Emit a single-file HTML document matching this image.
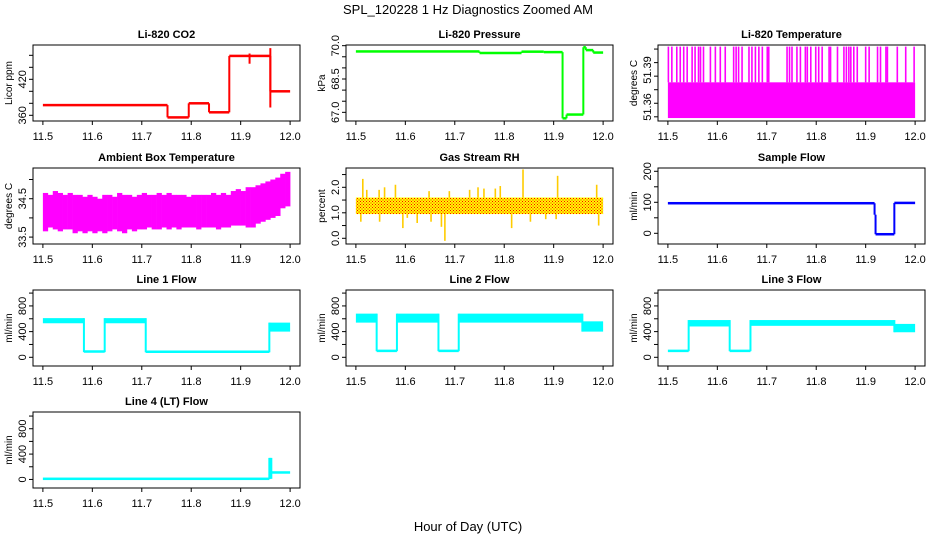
<!DOCTYPE html>
<html><head><meta charset="utf-8"><title>SPL_120228 1 Hz Diagnostics Zoomed AM</title>
<style>
html,body{margin:0;padding:0;background:#fff;}
svg{display:block;font-family:"Liberation Sans",Arial,sans-serif;}
</style></head>
<body>
<svg id="chart" width="936" height="540" viewBox="0 0 936 540" xmlns="http://www.w3.org/2000/svg">
<defs>
<pattern id="rhpat" width="3" height="3" patternUnits="userSpaceOnUse">
<rect width="3" height="3" fill="#ffff00"/>
<rect x="0" y="0" width="1" height="1" fill="#ff0000"/>
<rect x="1.5" y="1.5" width="1" height="1" fill="#ff0000"/>
</pattern>
</defs>
<text x="468" y="14" font-size="13" text-anchor="middle">SPL_120228 1 Hz Diagnostics Zoomed AM</text>
<text x="468" y="531" font-size="13" text-anchor="middle">Hour of Day (UTC)</text>
</svg>
<script>
// ---- data ----
const xTicks = [11.5, 11.6, 11.7, 11.8, 11.9, 12.0];
const xTickLabels = ["11.5", "11.6", "11.7", "11.8", "11.9", "12.0"];

const co2Start = [11.5, 11.752, 11.795, 11.836, 11.877, 11.96];
const co2Value = [377, 356.5, 380, 365, 459, 400];
const co2SpikeX = [11.918, 11.96];
const co2SpikeLow = [446, 373];
const co2SpikeHigh = [463, 472];

const presStart = [11.5, 11.75, 11.835, 11.88, 11.918, 11.926, 11.96, 11.965, 11.98];
const presValue = [69.74, 69.67, 69.73, 69.71, 66.73, 66.9, 69.93, 69.8, 69.69];

const tempLevels = [51.351, 51.380, 51.409];
const tempSpikeX = [11.501,11.508,11.518,11.525,11.532,11.539,11.549,11.555,11.562,11.566,11.572,11.586,11.596,11.606,11.616,11.633,11.638,11.643,11.650,11.664,11.670,11.677,11.684,11.691,11.701,11.704,11.741,11.746,11.751,11.761,11.768,11.778,11.782,11.789,11.799,11.805,11.812,11.826,11.829,11.843,11.856,11.861,11.866,11.870,11.876,11.883,11.900,11.907,11.924,11.930,11.941,11.944,11.964,11.981,11.998];

const ambBinStart = 11.5;
const ambLow = [33.65,33.75,33.7,33.65,33.7,33.7,33.6,33.65,33.6,33.65,33.6,33.65,33.6,33.65,33.7,33.65,33.6,33.7,33.65,33.7,33.7,33.75,33.7,33.7,33.75,33.7,33.75,33.7,33.75,33.75,33.75,33.7,33.75,33.75,33.75,33.7,33.75,33.75,33.8,33.8,33.8,33.75,33.75,33.85,33.9,33.95,34.0,34.05,34.25,34.3];
const ambHigh = [34.65,34.6,34.7,34.65,34.6,34.65,34.6,34.6,34.55,34.6,34.55,34.5,34.6,34.6,34.55,34.65,34.6,34.6,34.55,34.6,34.65,34.6,34.6,34.65,34.6,34.65,34.6,34.6,34.6,34.55,34.6,34.6,34.6,34.6,34.65,34.6,34.65,34.6,34.7,34.75,34.7,34.8,34.8,34.85,34.9,34.95,35.0,35.05,35.15,35.2];

const rhBand = [0.95, 1.6];
const rhSpikeX = [11.514,11.522,11.547,11.558,11.580,11.648,11.689,11.730,11.747,11.759,11.782,11.792,11.838,11.908,11.987,11.510,11.548,11.595,11.604,11.624,11.652,11.673,11.680,11.815,11.853,11.884,11.905,11.991];
const rhSpikeValue = [2.33,1.9,1.9,2.0,2.1,1.85,1.85,1.9,2.0,1.95,1.95,2.05,2.7,2.45,2.1,0.65,0.65,0.4,0.8,0.6,0.65,0.45,-0.1,0.4,0.65,0.75,0.75,0.5];

const sampStart = [11.5, 11.918, 11.92, 11.958];
const sampValue = [97, 60, -3, 98];

const flow1Start = [11.5, 11.583, 11.625, 11.708, 11.958];
const flow1Low = [530, 80, 530, 78, 400];
const flow1High = [610, 100, 610, 95, 540];
const flow2Start = [11.5, 11.542, 11.583, 11.667, 11.708, 11.958];
const flow2Low = [540, 95, 540, 95, 540, 400];
const flow2High = [680, 105, 680, 105, 680, 560];
const flow3Start = [11.5, 11.542, 11.625, 11.667, 11.958];
const flow3Low = [95, 480, 95, 490, 390];
const flow3High = [105, 580, 105, 580, 520];
const flow4Start = [11.5, 11.958, 11.962];
const flow4Low = [5, 10, 100];
const flow4High = [15, 340, 120];

const XEND = 12.0;
const svg = document.getElementById('chart');
const NS = 'http://www.w3.org/2000/svg';
function mk(tag, attrs, parent) {
  const el = document.createElementNS(NS, tag);
  for (const k in attrs) el.setAttribute(k, attrs[k]);
  (parent || svg).appendChild(el);
  return el;
}

const colX = [33, 346, 658];
const rowY = [45, 168, 290, 412];
const BW = 267, BH = 76;

function makePanel(col, row, name, title, ylab, ydom, yTicks, yLabels) {
  const bx = colX[col], by = rowY[row];
  const g = mk('g', {});
  
  
  const xs = v => bx + (v - 11.48) / 0.54 * BW;
  const ys = v => by + BH - (v - ydom[0]) / (ydom[1] - ydom[0]) * BH;
  const t = mk('text', {x: bx + BW / 2, y: by - 7, 'font-size': 11, 'font-weight': 'bold', 'text-anchor': 'middle'}, g);
  t.textContent = title;
  
  
  const yl = mk('text', {x: bx - 21, y: by + BH / 2, 'font-size': 10, 'text-anchor': 'middle', transform: 'rotate(-90 ' + (bx - 21) + ' ' + (by + BH / 2) + ')'}, g);
  yl.textContent = ylab;
  
  
  xTicks.forEach((v, i) => {
    const tk = mk('line', {x1: xs(v), x2: xs(v), y1: by + BH, y2: by + BH + 4, stroke: '#000', 'stroke-width': 1}, g);
    
    
    const tl = mk('text', {x: xs(v), y: by + BH + 19, 'font-size': 11, 'text-anchor': 'middle'}, g);
    tl.textContent = xTickLabels[i];
    
    
  });
  yTicks.forEach(v => {
    const tk = mk('line', {x1: bx - 4, x2: bx, y1: ys(v), y2: ys(v), stroke: '#000', 'stroke-width': 1}, g);
    
    
  });
  yLabels.forEach(lb => {
    const yy = ys(lb[0]);
    const tl = mk('text', {x: bx - 7, y: yy, 'font-size': 11, 'text-anchor': 'middle', transform: 'rotate(-90 ' + (bx - 7) + ' ' + yy + ')'}, g);
    tl.textContent = lb[1];
    
    
  });
  const clip = mk('clipPath', {id: 'clip-' + name}, g);
  mk('rect', {x: bx, y: by, width: BW, height: BH}, clip);
  const dg = mk('g', {'clip-path': 'url(#clip-' + name + ')'}, g);
  
  
  const box = mk('rect', {x: bx, y: by, width: BW, height: BH, fill: 'none', stroke: '#000', 'stroke-width': 1}, g);
  
  
  return {xs, ys, g: dg};
}

function bandSteps(p, starts, lows, highs, color, fill) {
  for (let i = 0; i < starts.length; i++) {
    const x0 = p.xs(starts[i]), x1 = p.xs(i + 1 < starts.length ? starts[i + 1] : XEND);
    let yt = p.ys(highs[i]), yb = p.ys(lows[i]);
    if (yb - yt < 2.5) { const m = (yt + yb) / 2; yt = m - 1.25; yb = m + 1.25; }
    const r = mk('rect', {x: x0, y: yt, width: Math.max(x1 - x0, 1), height: yb - yt, fill: fill || color}, p.g);
    
    
    if (i > 0) {
      const a = Math.min(lows[i - 1], lows[i]), b = Math.max(highs[i - 1], highs[i]);
      const c = mk('line', {x1: x0, x2: x0, y1: p.ys(a), y2: p.ys(b), stroke: color, 'stroke-width': 2}, p.g);
      
      
    }
  }
}

// Li-820 CO2
const pCO2 = makePanel(0, 0, 'co2', 'Li-820 CO2', 'Licor ppm', [350.5, 477.2], [360, 380, 400, 420, 440, 460], [[360, '360'], [420, '420']]);
bandSteps(pCO2, co2Start, co2Value, co2Value, '#ff0000');
co2SpikeX.forEach((x, i) => {
  const s = mk('line', {x1: pCO2.xs(x), x2: pCO2.xs(x), y1: pCO2.ys(co2SpikeLow[i]), y2: pCO2.ys(co2SpikeHigh[i]), stroke: '#ff0000', 'stroke-width': 2}, pCO2.g);
  
  
});

// Pressure
const pP = makePanel(1, 0, 'pressure', 'Li-820 Pressure', 'kPa', [66.61, 70.03], [67, 67.5, 68, 68.5, 69, 69.5, 70], [[67, '67.0'], [68.5, '68.5'], [70, '70.0']]);
bandSteps(pP, presStart, presValue, presValue, '#00ff00');

// Li-820 temperature
const pT = makePanel(2, 0, 'li820-temperature', 'Li-820 Temperature', 'degrees C', [51.3486, 51.4103], [51.352, 51.363, 51.374, 51.385, 51.396, 51.407], [[51.36, '51.36'], [51.39, '51.39']]);
{
  const r = mk('rect', {x: pT.xs(11.5), y: pT.ys(tempLevels[1]), width: pT.xs(XEND) - pT.xs(11.5), height: pT.ys(tempLevels[0]) - pT.ys(tempLevels[1]), fill: '#ff00ff'}, pT.g);
  
  
  tempSpikeX.forEach(x => {
    const s = mk('line', {x1: pT.xs(x), x2: pT.xs(x), y1: pT.ys(tempLevels[1]), y2: pT.ys(tempLevels[2]), stroke: '#ff00ff', 'stroke-width': 1.6}, pT.g);
    
    
  });
}

// Ambient box temperature
const pA = makePanel(0, 1, 'ambient-temperature', 'Ambient Box Temperature', 'degrees C', [33.32, 35.30], [33.5, 34.0, 34.5, 35.0], [[33.5, '33.5'], [34.5, '34.5']]);
{
  const bw = (XEND - ambBinStart) / ambLow.length;
  ambLow.forEach((lo, i) => {
    const x0 = pA.xs(ambBinStart + i * bw), x1 = pA.xs(ambBinStart + (i + 1) * bw);
    const r = mk('rect', {x: x0, y: pA.ys(ambHigh[i]), width: x1 - x0 + 0.3, height: pA.ys(lo) - pA.ys(ambHigh[i]), fill: '#ff00ff'}, pA.g);
    
    
  });
}

// Gas stream RH
const pR = makePanel(1, 1, 'gas-stream-rh', 'Gas Stream RH', 'percent', [-0.224, 2.757], [0, 0.5, 1.0, 1.5, 2.0, 2.5], [[0, '0.0'], [1, '1.0'], [2, '2.0']]);
{
  const r = mk('rect', {x: pR.xs(11.5), y: pR.ys(rhBand[1]), width: pR.xs(XEND) - pR.xs(11.5), height: pR.ys(rhBand[0]) - pR.ys(rhBand[1]), fill: 'url(#rhpat)'}, pR.g);
  
  
  rhSpikeX.forEach((x, i) => {
    const v = rhSpikeValue[i];
    const from = v > rhBand[1] ? rhBand[1] : rhBand[0];
    const s = mk('line', {x1: pR.xs(x), x2: pR.xs(x), y1: pR.ys(from), y2: pR.ys(v), stroke: '#ffcc00', 'stroke-width': 1.6}, pR.g);
    
    
  });
}

// Sample flow
const pS = makePanel(2, 1, 'sample-flow', 'Sample Flow', 'ml/min', [-34.5, 210.6], [0, 50, 100, 150, 200], [[0, '0'], [100, '100'], [200, '200']]);
bandSteps(pS, sampStart, sampValue, sampValue, '#0000ff');

// Line flows
const flowTicks = [0, 200, 400, 600, 800, 1000];
const flowLabels = [[0, '0'], [400, '400'], [800, '800']];
const p1 = makePanel(0, 2, 'line1-flow', 'Line 1 Flow', 'ml/min', [-135.5, 1048], flowTicks, flowLabels);
bandSteps(p1, flow1Start, flow1Low, flow1High, '#00ffff');
const p2 = makePanel(1, 2, 'line2-flow', 'Line 2 Flow', 'ml/min', [-135.5, 1048], flowTicks, flowLabels);
bandSteps(p2, flow2Start, flow2Low, flow2High, '#00ffff');
const p3 = makePanel(2, 2, 'line3-flow', 'Line 3 Flow', 'ml/min', [-135.5, 1048], flowTicks, flowLabels);
bandSteps(p3, flow3Start, flow3Low, flow3High, '#00ffff');
const p4 = makePanel(0, 3, 'line4-flow', 'Line 4 (LT) Flow', 'ml/min', [-135, 1064], flowTicks, flowLabels);
bandSteps(p4, flow4Start, flow4Low, flow4High, '#00ffff');
</script>
</body></html>
